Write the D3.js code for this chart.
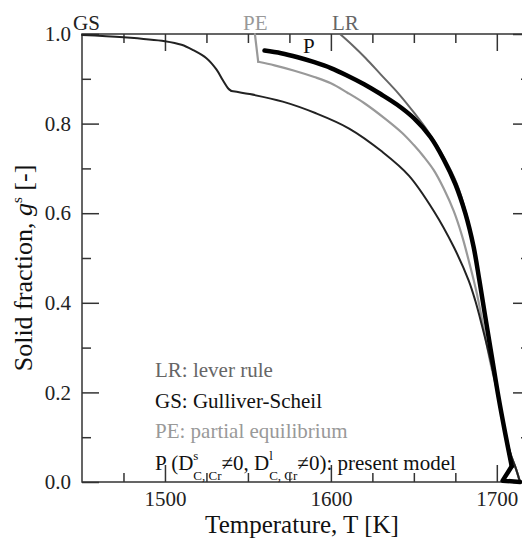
<!DOCTYPE html>
<html>
<head>
<meta charset="utf-8">
<script src="https://cdn.jsdelivr.net/npm/d3@7"></script>
<style>
  html, body { margin: 0; padding: 0; background: #fff; overflow: hidden; }
  svg { display: block; }
  svg text { font-family: "Liberation Serif", "DejaVu Serif", serif; }
</style>
</head>
<body>
<svg id="drawing_region"></svg>
<script>
// --- data: [temperature K, solid fraction] ---
const gsUpper = [[1450, 0.998], [1475, 0.993], [1500, 0.984], [1510, 0.976], [1517, 0.964],
                 [1525, 0.946], [1531, 0.921], [1535, 0.896], [1538, 0.879], [1540, 0.873]];
const gsLower = [[1540, 0.873], [1551, 0.866], [1571, 0.849], [1591, 0.823], [1611, 0.789],
                 [1631, 0.737], [1647, 0.684], [1662, 0.605], [1674, 0.525], [1683, 0.45],
                 [1687, 0.405], [1691, 0.35], [1695, 0.29], [1701, 0.19], [1705, 0.11],
                 [1708, 0.065], [1711.5, 0.03], [1714, 0]];
const lrCurve = [[1605.5, 1.0], [1613, 0.975], [1621, 0.946], [1630, 0.91], [1641, 0.866],
                 [1650, 0.825], [1659, 0.78], [1668.5, 0.722], [1676, 0.665], [1681.5, 0.6],
                 [1686, 0.525], [1689.5, 0.45], [1693, 0.37], [1697, 0.28], [1701, 0.19],
                 [1705, 0.11], [1708.5, 0.06], [1711.5, 0.03], [1714, 0]];
const peDrop  = [[1554.2, 1.0], [1556.2, 0.938]];
const peCurve = [[1556.2, 0.938], [1566, 0.93], [1578, 0.918], [1590, 0.904], [1600, 0.89],
                 [1610, 0.869], [1620, 0.846], [1633, 0.81], [1643, 0.779], [1650, 0.752],
                 [1656, 0.726], [1662, 0.696], [1668, 0.655], [1674, 0.605], [1679, 0.55],
                 [1683.5, 0.488], [1688, 0.42], [1692, 0.345], [1696.5, 0.26], [1701, 0.19],
                 [1705, 0.11], [1708.5, 0.06], [1711.5, 0.03], [1714, 0]];
const pCurve  = [[1560, 0.963], [1570, 0.957], [1580, 0.948], [1590, 0.937], [1600, 0.924],
                 [1610, 0.907], [1620, 0.888], [1630, 0.866], [1640, 0.842], [1650, 0.812],
                 [1660, 0.77], [1668, 0.72], [1675, 0.665], [1681, 0.6], [1686, 0.525],
                 [1689.5, 0.45], [1693, 0.37], [1697, 0.28], [1701, 0.19], [1705, 0.11],
                 [1709, 0.035]];
const pHook   = [[1709, 0.035], [1703.5, 0.003], [1714, 0.0]];

const xMajor = [1500, 1600, 1700];
const xMinor = [1475, 1525, 1550, 1575, 1625, 1650, 1675];
const yMajor = [0, 0.2, 0.4, 0.6, 0.8, 1.0];
const yMinor = [0.1, 0.3, 0.5, 0.7, 0.9];

const legendRows = [
  {text: "LR: lever rule", color: "#666"},
  {text: "GS: Gulliver-Scheil", color: "#111"},
  {text: "PE: partial equilibrium", color: "#999"}
];

// --- chart ---
const FONT = '"Liberation Serif", "DejaVu Serif", serif';
const config = {
  width: 522, height: 539,
  margin: {top: 34, left: 82, bottom: 57, right: -8}
};

const svg = d3.select("#drawing_region")
    .attr("width", config.width)
    .attr("height", config.height)
    .style("font-family", FONT);

const x0 = config.margin.left, x1 = config.width - config.margin.right;
const y0 = config.height - config.margin.bottom, y1 = config.margin.top;

const xscale = d3.scaleLinear().domain([1450, 1720]).range([x0, x1]);
const yscale = d3.scaleLinear().domain([0, 1]).range([y0, y1]);

const axisColor = "#333";
const majorLen = 17, minorLen = 9;

function styleAxis(g) {
  g.attr("font-family", null).attr("font-size", null);
  g.select(".domain").remove();
  g.selectAll(".tick line").attr("stroke", axisColor).attr("stroke-width", 1.5);
  g.selectAll(".tick text")
    .attr("fill", "#222")
    .style("font-size", "21px")
    .style("font-family", FONT);
}

function addAxis(axis, tx, ty) {
  svg.append("g").attr("transform", `translate(${tx},${ty})`).call(axis).call(styleAxis);
}

// bottom
addAxis(d3.axisBottom(xscale).tickValues(xMajor).tickSizeInner(-majorLen).tickSizeOuter(0)
        .tickPadding(9).tickFormat(d3.format("d")), 0, y0);
addAxis(d3.axisBottom(xscale).tickValues(xMinor).tickSizeInner(-minorLen).tickSizeOuter(0).tickFormat(""), 0, y0);
// top
addAxis(d3.axisTop(xscale).tickValues(xMajor).tickSizeInner(-majorLen).tickSizeOuter(0).tickFormat(""), 0, y1);
addAxis(d3.axisTop(xscale).tickValues(xMinor).tickSizeInner(-minorLen).tickSizeOuter(0).tickFormat(""), 0, y1);
// left
addAxis(d3.axisLeft(yscale).tickValues(yMajor).tickSizeInner(-majorLen).tickSizeOuter(0)
        .tickPadding(11).tickFormat(d3.format(".1f")), x0, 0);
addAxis(d3.axisLeft(yscale).tickValues(yMinor).tickSizeInner(-minorLen).tickSizeOuter(0).tickFormat(""), x0, 0);
// right
addAxis(d3.axisRight(yscale).tickValues(yMajor).tickSizeInner(-majorLen).tickSizeOuter(0).tickFormat(""), x1, 0);
addAxis(d3.axisRight(yscale).tickValues(yMinor).tickSizeInner(-minorLen).tickSizeOuter(0).tickFormat(""), x1, 0);

svg.append("rect")
  .attr("x", x0).attr("y", y1)
  .attr("width", x1 - x0).attr("height", y0 - y1)
  .attr("fill", "none").attr("stroke", axisColor).attr("stroke-width", 1.5);

// curves
const smooth = d3.line().x(d => xscale(d[0])).y(d => yscale(d[1])).curve(d3.curveCatmullRom.alpha(0.5));
const straight = d3.line().x(d => xscale(d[0])).y(d => yscale(d[1]));

function drawLine(data, gen, color, width) {
  svg.append("path")
    .datum(data)
    .attr("d", gen)
    .attr("fill", "none")
    .attr("stroke", color)
    .attr("stroke-width", width)
    .attr("stroke-linejoin", "round")
    .attr("stroke-linecap", "round");
}

drawLine(lrCurve, smooth, "#666", 2);
drawLine(peDrop, straight, "#999", 2.2);
drawLine(peCurve, smooth, "#999", 2.2);
drawLine(gsUpper, smooth, "#222", 2);
drawLine(gsLower, smooth, "#222", 2);
drawLine(pCurve, smooth, "#000", 4.5);
drawLine(pHook, straight, "#000", 4.5);

// curve labels
[["GS", 73, 30, "#222"], ["PE", 243, 30, "#999"], ["LR", 332, 30, "#666"], ["P", 303, 53, "#111"]]
  .forEach(l => {
    svg.append("text").attr("x", l[1]).attr("y", l[2]).attr("fill", l[3])
      .style("font-size", "21px").text(l[0]);
  });

// legend
const legX = 155;
legendRows.forEach((r, i) => {
  svg.append("text").attr("x", legX).attr("y", 377 + i * 30.5)
    .attr("fill", r.color).style("font-size", "21px").text(r.text);
});

// last legend row with sub/superscripts
(function () {
  const base = 470;
  let cx = legX;
  function piece(str, size, dy) {
    const t = svg.append("text").attr("x", cx).attr("y", base + dy)
      .attr("fill", "#111").style("font-size", size + "px").text(str);
    return t.node().getComputedTextLength();
  }
  cx += piece("P (D", 21, 0);
  cx += Math.max(piece("s", 13, -10), piece("C, Cr", 13, 10));
  cx += piece("\u22600, D", 21, 0);
  cx += Math.max(piece("l", 13, -10), piece("C, Cr", 13, 10));
  piece("\u22600): present model", 21, 0);
})();

// axis titles
svg.append("text")
  .attr("x", (x0 + 522) / 2).attr("y", 532.5)
  .attr("text-anchor", "middle").attr("fill", "#111")
  .style("font-size", "25px")
  .text("Temperature, T [K]");

const yt = svg.append("text")
  .attr("transform", "translate(32,268) rotate(-90)")
  .attr("text-anchor", "middle").attr("fill", "#111")
  .style("font-size", "26px");
yt.append("tspan").text("Solid fraction, ");
yt.append("tspan").style("font-style", "italic").text("g");
yt.append("tspan").attr("dy", -10).style("font-size", "15px").text("s");
yt.append("tspan").attr("dy", 10).text(" [-]");
</script>
</body>
</html>
